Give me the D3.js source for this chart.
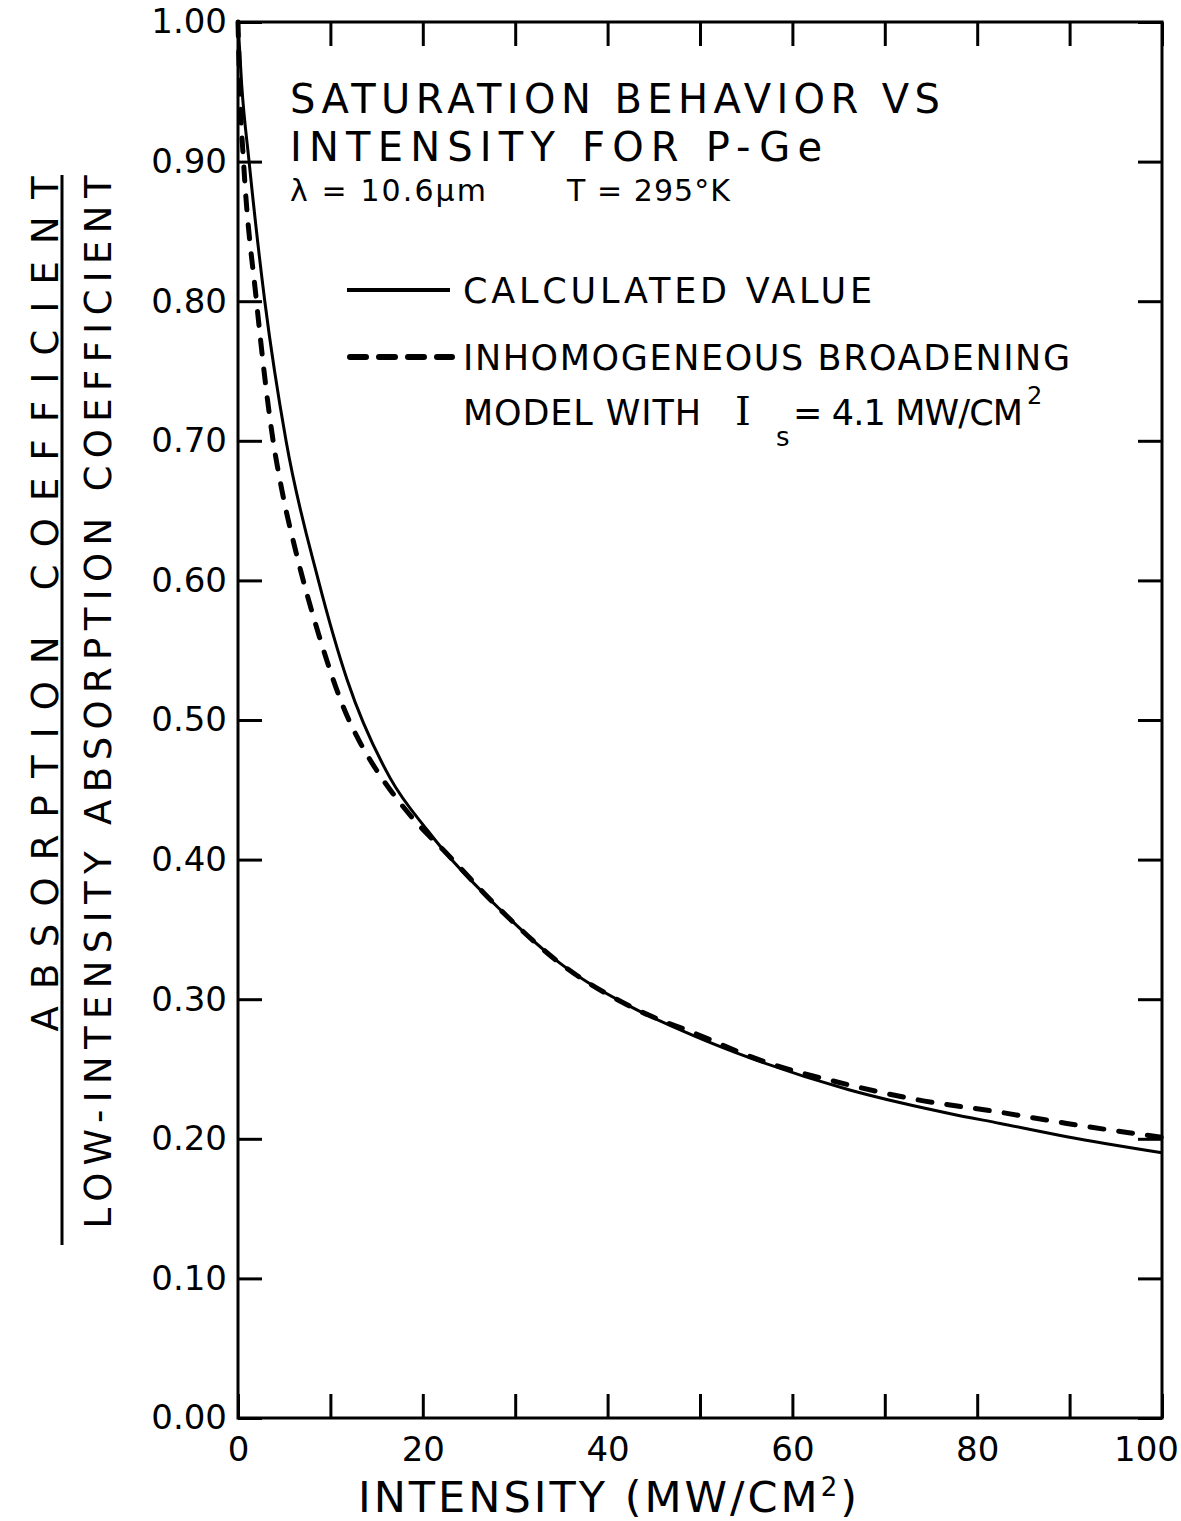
<!DOCTYPE html>
<html>
<head>
<meta charset="utf-8">
<script src="https://d3js.org/d3.v7.min.js"></script>
<style>
  body { margin: 0; background: #fff; }
  text { font-family: "DejaVu Sans", sans-serif; fill: #000; }
</style>
</head>
<body>
<svg width="1181" height="1521"></svg>
<script>
// values
var calcI = [0, 0.4, 1.2, 2.9, 5.2, 8.7, 11.8, 16.5, 20.5, 22.2, 28.4, 34.8, 42.7, 50, 55.4, 66.2, 71.6, 77.1, 82.5, 89.7, 100];
var calcV = [1.00, 0.955, 0.90, 0.80, 0.70, 0.60, 0.529, 0.458, 0.421, 0.407, 0.364, 0.326, 0.294, 0.272, 0.258, 0.235, 0.226, 0.218, 0.211, 0.2015, 0.190];

var ibI = [0, 0.2, 0.6, 2.0, 3.8, 4.8, 6.4, 8.7, 11.8, 13.2, 15.0, 16.8, 19.4, 22.2, 28.4, 34.8, 42.7, 50, 55.4, 66.2, 73.5, 82.5, 89.7, 100];
var ibV = [1.00, 0.95, 0.90, 0.80, 0.70, 0.663, 0.617, 0.562, 0.503, 0.484, 0.464, 0.447, 0.426, 0.407, 0.364, 0.326, 0.294, 0.274, 0.259, 0.2385, 0.228, 0.219, 0.211, 0.201];

var xTicks = [0, 10, 20, 30, 40, 50, 60, 70, 80, 90, 100];
var xLabels = [0, 20, 40, 60, 80, 100];
var yTicks = [0, 0.1, 0.2, 0.3, 0.4, 0.5, 0.6, 0.7, 0.8, 0.9, 1.0];

var svg = d3.select("svg");

var x = d3.scaleLinear().domain([0, 100]).range([238, 1162]);
var y = d3.scaleLinear().domain([0, 1]).range([1418, 22]);

var tick = 24;

// ticks all point inward
var gBottom = svg.append("g")
    .attr("transform", "translate(0," + y(0) + ")")
    .call(d3.axisBottom(x).tickValues(xTicks).tickSizeInner(-tick).tickSizeOuter(0).tickPadding(12)
      .tickFormat(function(d) { return xLabels.indexOf(d) >= 0 ? d : ""; }));

svg.append("g")
    .attr("transform", "translate(0," + y(1) + ")")
    .call(d3.axisTop(x).tickValues(xTicks).tickSizeInner(-tick).tickSizeOuter(0).tickFormat(""));

var gLeft = svg.append("g")
    .attr("transform", "translate(" + x(0) + ",0)")
    .call(d3.axisLeft(y).tickValues(yTicks).tickSizeInner(-tick).tickSizeOuter(0).tickPadding(11)
      .tickFormat(d3.format(".2f")));

svg.append("g")
    .attr("transform", "translate(" + x(100) + ",0)")
    .call(d3.axisRight(y).tickValues(yTicks).tickSizeInner(-tick).tickSizeOuter(0).tickFormat(""));

svg.selectAll(".domain").remove();
svg.selectAll(".tick line").attr("stroke", "#000").attr("stroke-width", 3);
svg.selectAll(".tick text")
    .style("font-family", "DejaVu Sans")
    .style("font-size", "34px")
    .attr("fill", "#000");
gBottom.selectAll(".tick text").attr("dy", "0.9em");
gBottom.selectAll(".tick text").filter(function(d) { return d === 100; }).attr("dx", -16);

// frame
svg.append("rect")
    .attr("x", x(0)).attr("y", y(1))
    .attr("width", x(100) - x(0)).attr("height", y(0) - y(1))
    .attr("fill", "none").attr("stroke", "#000").attr("stroke-width", 3);

// curves
var line = d3.line()
    .x(function(d) { return x(d[0]); })
    .y(function(d) { return y(d[1]); })
    .curve(d3.curveMonotoneX);

svg.append("path")
    .datum(d3.zip(calcI, calcV))
    .attr("d", line)
    .attr("fill", "none").attr("stroke", "#000").attr("stroke-width", 3);

svg.append("path")
    .datum(d3.zip(ibI, ibV))
    .attr("d", line)
    .attr("fill", "none").attr("stroke", "#000").attr("stroke-width", 5)
    .attr("stroke-linecap", "round")
    .attr("stroke-dasharray", "14,15");

// title block
function label(txt, tx, ty, size, len) {
  var t = svg.append("text")
      .attr("x", tx).attr("y", ty)
      .style("font-size", size + "px")
      .text(txt);
  if (len) t.attr("textLength", len).attr("lengthAdjust", "spacing");
  return t;
}

label("SATURATION BEHAVIOR VS", 290, 113, 40, 650);
label("INTENSITY FOR P-Ge", 290, 161, 40, 532);
label("λ = 10.6μm", 290, 201, 30, 196);
label("T = 295°K", 567, 201, 30, 163);

// legend
svg.append("line")
    .attr("x1", 347).attr("x2", 450).attr("y1", 290).attr("y2", 290)
    .attr("stroke", "#000").attr("stroke-width", 4);
label("CALCULATED VALUE", 463, 303, 35, 409);

svg.append("line")
    .attr("x1", 350).attr("x2", 452).attr("y1", 357).attr("y2", 357)
    .attr("stroke", "#000").attr("stroke-width", 6)
    .attr("stroke-linecap", "round")
    .attr("stroke-dasharray", "16,13");
label("INHOMOGENEOUS BROADENING", 463, 370, 35, 607);
label("MODEL WITH", 463, 425, 35, 238);
label("I", 735, 425, 40).style("font-family", "DejaVu Serif");
label("s", 776, 446, 26);
label("= 4.1 MW/CM", 793, 425, 35, 230);
label("2", 1027, 404, 24);

// x axis title
var xt = svg.append("text")
    .attr("x", 358).attr("y", 1512)
    .style("font-size", "43px")
    .style("letter-spacing", "3px");
xt.append("tspan").text("INTENSITY (MW/CM");
xt.append("tspan").attr("dy", -16).style("font-size", "26px").text("2");
xt.append("tspan").attr("dy", 16).text(")");

// y axis title as a fraction
svg.append("text")
    .attr("transform", "translate(58,604) rotate(-90)")
    .attr("text-anchor", "middle")
    .style("font-size", "37px")
    .attr("textLength", 855).attr("lengthAdjust", "spacing")
    .text("ABSORPTION COEFFICIENT");

svg.append("line")
    .attr("x1", 62).attr("x2", 62).attr("y1", 175).attr("y2", 1245)
    .attr("stroke", "#000").attr("stroke-width", 3);

svg.append("text")
    .attr("transform", "translate(111,702) rotate(-90)")
    .attr("text-anchor", "middle")
    .style("font-size", "37px")
    .attr("textLength", 1053).attr("lengthAdjust", "spacing")
    .text("LOW-INTENSITY ABSORPTION COEFFICIENT");
</script>
</body>
</html>
